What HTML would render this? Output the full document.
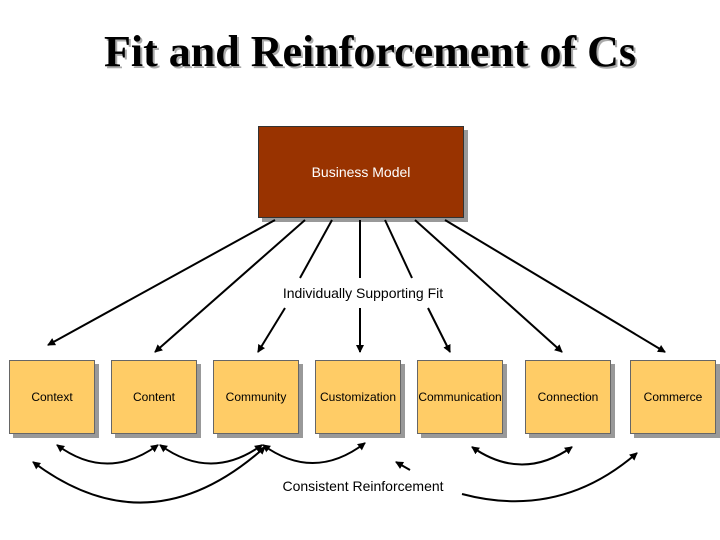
<!DOCTYPE html>
<html><head><style>
body{margin:0;width:720px;height:540px;background:#fff;overflow:hidden;position:relative;font-family:"Liberation Sans",sans-serif}
.t{position:absolute;left:0;width:740px;top:26px;text-align:center;font-family:"Liberation Serif",serif;font-weight:bold;font-size:44px;color:#000;text-shadow:2px 2px 0 #aaa}
.b{position:absolute;background:#ffcc66;border:1px solid #666;box-shadow:4px 4px 0 #999;font-size:12px;display:flex;align-items:center;justify-content:center;color:#000}
</style></head><body>
<div class="t">Fit and Reinforcement of Cs</div>
<div class="b" style="left:258px;top:126px;width:204px;height:90px;background:#993300;color:#fff;font-size:14px;border-color:#333">Business Model</div>
<div class="b" style="left:9px;top:360px;width:84px;height:72px">Context</div>
<div class="b" style="left:111px;top:360px;width:84px;height:72px">Content</div>
<div class="b" style="left:213px;top:360px;width:84px;height:72px">Community</div>
<div class="b" style="left:315px;top:360px;width:84px;height:72px">Customization</div>
<div class="b" style="left:417px;top:360px;width:84px;height:72px">Communication</div>
<div class="b" style="left:525px;top:360px;width:84px;height:72px">Connection</div>
<div class="b" style="left:630px;top:360px;width:84px;height:72px">Commerce</div>
<svg width="720" height="540" style="position:absolute;left:0;top:0">
<defs><marker id="a" markerWidth="8" markerHeight="8" refX="7" refY="4" orient="auto" markerUnits="userSpaceOnUse"><path d="M0,0L8,4L0,8z" fill="#000"/></marker>
<marker id="s" markerWidth="8" markerHeight="8" refX="1" refY="4" orient="auto" markerUnits="userSpaceOnUse"><path d="M8,0L0,4L8,8z" fill="#000"/></marker></defs>
<g stroke="#000" stroke-width="2" fill="none">
<line x1="275" y1="220" x2="48" y2="345" marker-end="url(#a)"/>
<line x1="305" y1="220" x2="155" y2="352" marker-end="url(#a)"/>
<line x1="332" y1="220" x2="300" y2="278"/><line x1="285" y1="308" x2="258" y2="352" marker-end="url(#a)"/>
<line x1="360" y1="220" x2="360" y2="278"/><line x1="360" y1="308" x2="360" y2="352" marker-end="url(#a)"/>
<line x1="385" y1="220" x2="412" y2="278"/><line x1="428" y1="308" x2="450" y2="352" marker-end="url(#a)"/>
<line x1="415" y1="220" x2="562" y2="352" marker-end="url(#a)"/>
<line x1="445" y1="220" x2="665" y2="352" marker-end="url(#a)"/>
<path d="M57,445 Q107,482 158,445" marker-start="url(#s)" marker-end="url(#a)"/>
<path d="M160,445 Q211,482 262,445" marker-start="url(#s)" marker-end="url(#a)"/>
<path d="M263,445 Q314,482 365,443" marker-start="url(#s)" marker-end="url(#a)"/>
<path d="M33,462 Q150,550 265,447" marker-start="url(#s)" marker-end="url(#a)"/>
<path d="M410,470 L396,462" marker-end="url(#a)"/>
<path d="M472,447 Q522,482 572,447" marker-start="url(#s)" marker-end="url(#a)"/>
<path d="M462,494 Q560,520 637,453" marker-end="url(#a)"/>
</g>
<text x="363" y="298" font-size="14" text-anchor="middle" font-family="Liberation Sans,sans-serif">Individually Supporting Fit</text>
<text x="363" y="491" font-size="14" text-anchor="middle" font-family="Liberation Sans,sans-serif">Consistent Reinforcement</text>
</svg>
</body></html>
